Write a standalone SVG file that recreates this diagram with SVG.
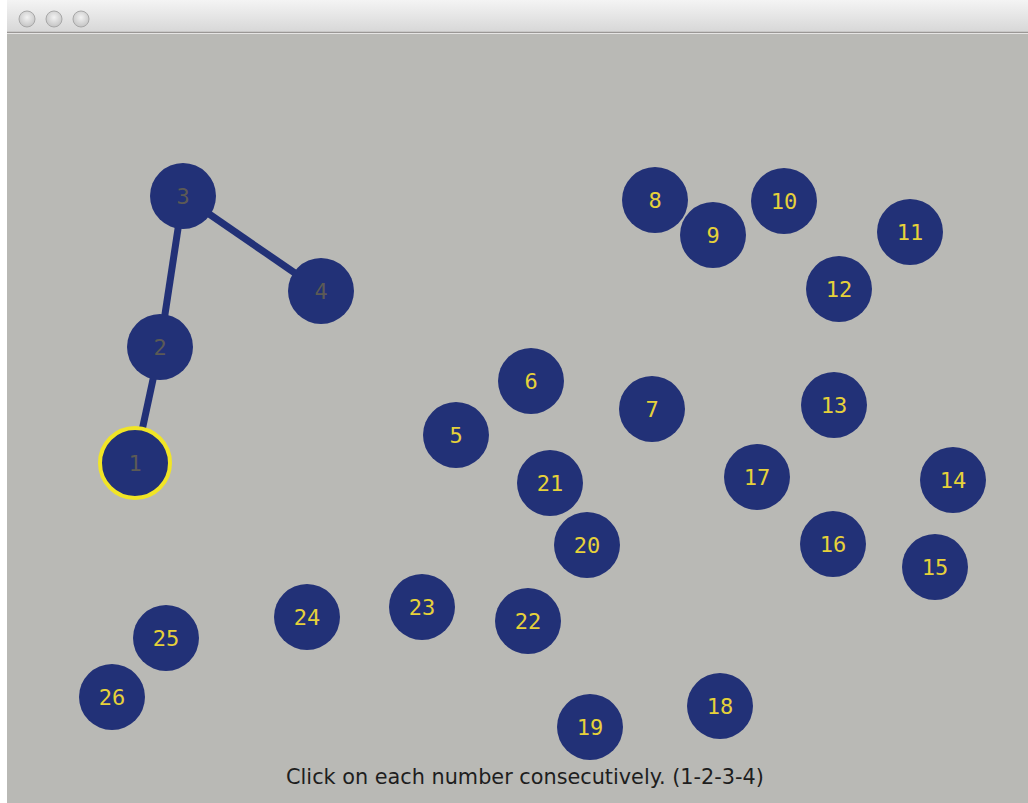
<svg xmlns="http://www.w3.org/2000/svg" width="1028" height="803" viewBox="0 0 1028 803">
<defs>
<linearGradient id="tb" x1="0" y1="0" x2="0" y2="1">
<stop offset="0" stop-color="#f4f4f4"/>
<stop offset="1" stop-color="#d6d6d6"/>
</linearGradient>
<radialGradient id="btn" cx="0.5" cy="0.4" r="0.6">
<stop offset="0" stop-color="#f2f2f2"/>
<stop offset="1" stop-color="#c4c4c4"/>
</radialGradient>
</defs>
<style>
.n circle{fill:#223177}
.n text{font-family:"DejaVu Sans Mono",monospace;font-size:22px;fill:#e6d13a;text-anchor:middle;dominant-baseline:central}
.n.v text{fill:#5c5a55}
.c line{stroke:#223177;stroke-width:7}
.btn{fill:url(#btn);stroke:#a8a8a8;stroke-width:1}
</style>
<rect width="1028" height="803" fill="#ffffff"/>
<rect x="7" y="0" width="1021" height="33" fill="url(#tb)"/>
<line x1="7" y1="32.5" x2="1028" y2="32.5" stroke="#9a9795" stroke-width="1.5"/>
<circle class="btn" cx="27" cy="19" r="8"/>
<circle class="btn" cx="54" cy="19" r="8"/>
<circle class="btn" cx="81" cy="19" r="8"/>
<rect x="7" y="34" width="1021" height="769" fill="#b9b9b5"/>
<g class="c">
<line x1="135" y1="463" x2="160" y2="347"/>
<line x1="160" y1="347" x2="183" y2="196"/>
<line x1="183" y1="196" x2="321" y2="291"/>
</g>
<g id="n1" class="n v"><circle cx="135" cy="463" r="35" style="stroke:#f1e526;stroke-width:4"/><text x="135" y="463">1</text></g>
<g id="n2" class="n v"><circle cx="160" cy="347" r="33"/><text x="160" y="347">2</text></g>
<g id="n3" class="n v"><circle cx="183" cy="196" r="33"/><text x="183" y="196">3</text></g>
<g id="n4" class="n v"><circle cx="321" cy="291" r="33"/><text x="321" y="291">4</text></g>
<g id="n5" class="n"><circle cx="456" cy="435" r="33"/><text x="456" y="435">5</text></g>
<g id="n6" class="n"><circle cx="531" cy="381" r="33"/><text x="531" y="381">6</text></g>
<g id="n7" class="n"><circle cx="652" cy="409" r="33"/><text x="652" y="409">7</text></g>
<g id="n8" class="n"><circle cx="655" cy="200" r="33"/><text x="655" y="200">8</text></g>
<g id="n9" class="n"><circle cx="713" cy="235" r="33"/><text x="713" y="235">9</text></g>
<g id="n10" class="n"><circle cx="784" cy="201" r="33"/><text x="784" y="201">10</text></g>
<g id="n11" class="n"><circle cx="910" cy="232" r="33"/><text x="910" y="232">11</text></g>
<g id="n12" class="n"><circle cx="839" cy="289" r="33"/><text x="839" y="289">12</text></g>
<g id="n13" class="n"><circle cx="834" cy="405" r="33"/><text x="834" y="405">13</text></g>
<g id="n14" class="n"><circle cx="953" cy="480" r="33"/><text x="953" y="480">14</text></g>
<g id="n15" class="n"><circle cx="935" cy="567" r="33"/><text x="935" y="567">15</text></g>
<g id="n16" class="n"><circle cx="833" cy="544" r="33"/><text x="833" y="544">16</text></g>
<g id="n17" class="n"><circle cx="757" cy="477" r="33"/><text x="757" y="477">17</text></g>
<g id="n18" class="n"><circle cx="720" cy="706" r="33"/><text x="720" y="706">18</text></g>
<g id="n19" class="n"><circle cx="590" cy="727" r="33"/><text x="590" y="727">19</text></g>
<g id="n20" class="n"><circle cx="587" cy="545" r="33"/><text x="587" y="545">20</text></g>
<g id="n21" class="n"><circle cx="550" cy="483" r="33"/><text x="550" y="483">21</text></g>
<g id="n22" class="n"><circle cx="528" cy="621" r="33"/><text x="528" y="621">22</text></g>
<g id="n23" class="n"><circle cx="422" cy="607" r="33"/><text x="422" y="607">23</text></g>
<g id="n24" class="n"><circle cx="307" cy="617" r="33"/><text x="307" y="617">24</text></g>
<g id="n25" class="n"><circle cx="166" cy="638" r="33"/><text x="166" y="638">25</text></g>
<g id="n26" class="n"><circle cx="112" cy="697" r="33"/><text x="112" y="697">26</text></g>
<text x="525" y="784" font-family="'DejaVu Sans',sans-serif" font-size="20.8" fill="#1e1e1e" text-anchor="middle">Click on each number consecutively. (1-2-3-4)</text>
</svg>
